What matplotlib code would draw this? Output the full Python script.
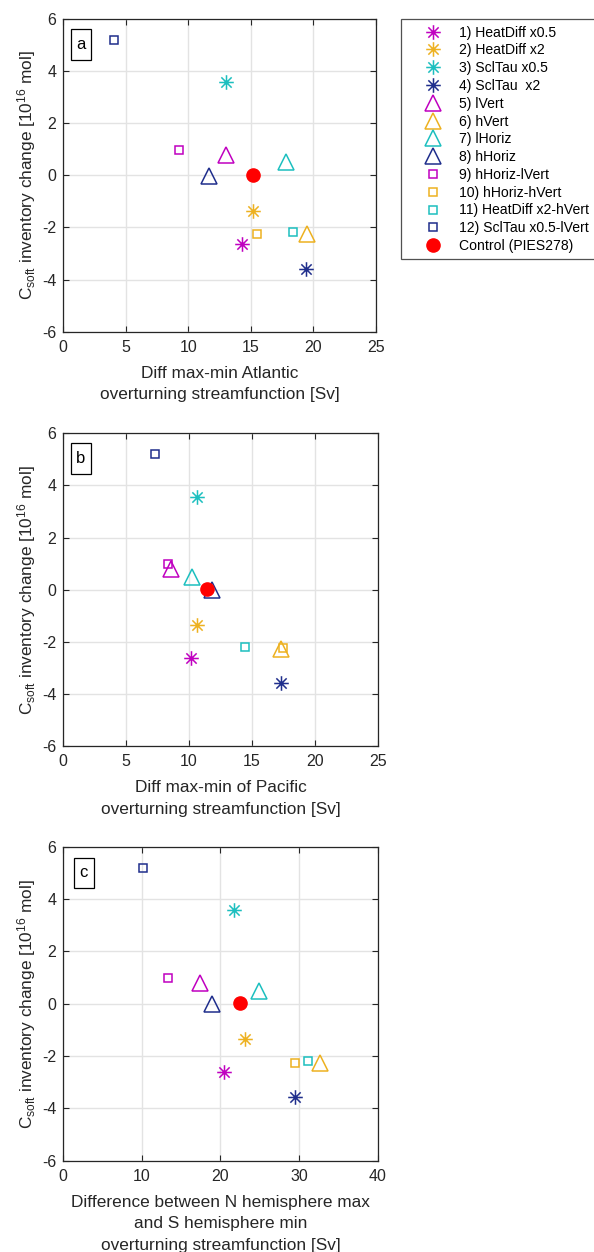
import matplotlib
matplotlib.use("Agg")
import matplotlib.pyplot as plt
from matplotlib.patches import Rectangle
from matplotlib.path import Path

plt.rcParams['font.family'] = ['Liberation Sans', 'DejaVu Sans']
plt.rcParams['mathtext.fontset'] = 'custom'
plt.rcParams['mathtext.rm'] = 'Liberation Sans'
plt.rcParams['mathtext.it'] = 'Liberation Sans:italic'
plt.rcParams['mathtext.bf'] = 'Liberation Sans:bold'
plt.rcParams['axes.unicode_minus'] = False

# ---- data -------------------------------------------------------------
run_labels = [
    "1) HeatDiff x0.5", "2) HeatDiff x2", "3) SclTau x0.5", "4) SclTau  x2",
    "5) lVert", "6) hVert", "7) lHoriz", "8) hHoriz",
    "9) hHoriz-lVert", "10) hHoriz-hVert", "11) HeatDiff x2-hVert",
    "12) SclTau x0.5-lVert",
]
control_label = "Control (PIES278)"

# Csoft inventory change [1e16 mol]
csoft_change = [-2.62, -1.36, 3.57, -3.58, 0.80, -2.26, 0.50, -0.03,
                0.98, -2.25, -2.19, 5.20]
control_csoft = 0.03

# overturning metrics [Sv]
atlantic_range = [14.26, 15.14, 13.0, 19.4, 13.0, 19.5, 17.8, 11.65,
                  9.25, 15.5, 18.4, 4.08]
pacific_range = [10.13, 10.6, 10.6, 17.31, 8.56, 17.31, 10.2, 11.85,
                 8.3, 17.5, 14.45, 7.32]
hemisphere_diff = [20.49, 23.08, 21.72, 29.44, 17.35, 32.7, 24.94, 18.88,
                   13.32, 29.48, 31.09, 10.1]
control_x = [15.14, 11.45, 22.48]

x_labels = [
    "Diff max-min Atlantic\noverturning streamfunction [Sv]",
    "Diff max-min of Pacific\noverturning streamfunction [Sv]",
    "Difference between N hemisphere max\nand S hemisphere min\noverturning streamfunction [Sv]",
]
panel_tags = ["a", "b", "c"]
x_limits = [(0, 25), (0, 25), (0, 40)]
x_ticks = [[0, 5, 10, 15, 20, 25], [0, 5, 10, 15, 20, 25], [0, 10, 20, 30, 40]]
y_ticks = [-6, -4, -2, 0, 2, 4, 6]

# ---- styles ----------------------------------------------------------
magenta = "#C000C0"
orange = "#EDB120"
cyan = "#1CBFBF"
navy = "#1F2E8C"
colors = [magenta, orange, cyan, navy] * 3

# eight-armed asterisk: a plus sign overlaid with a cross
d = 0.7071
asterisk = Path(
    [(0, -1), (0, 1), (-1, 0), (1, 0), (-d, -d), (d, d), (-d, d), (d, -d)],
    [Path.MOVETO, Path.LINETO] * 4,
)
markers = [asterisk] * 4 + ["^"] * 4 + ["s"] * 4
sizes = [10.5] * 4 + [11.5] * 4 + [6.2] * 4
text_col = "#262626"

fig = plt.figure(figsize=(5.94, 12.52), dpi=100)
W, H = 594, 1252
axes_px = [
    (63.3, 19.0, 376.0, 331.7),
    (63.3, 433.3, 377.7, 746.0),
    (63.3, 846.7, 377.7, 1160.7),
]
tag_boxes = [
    (0.0246, 0.869, 0.063, 0.099),
    (0.0246, 0.870, 0.063, 0.100),
    (0.034, 0.868, 0.063, 0.097),
]
xdata = [atlantic_range, pacific_range, hemisphere_diff]

handles = []
for i, (l, t, r, b) in enumerate(axes_px):
    ax = fig.add_axes([l / W, 1 - b / H, (r - l) / W, (b - t) / H])
    ax.set_axisbelow(True)
    ax.grid(True, color="#E3E3E3", linewidth=1.0)
    hs = []
    for x, y, c, m, s, lab in zip(xdata[i], csoft_change, colors, markers,
                                  sizes, run_labels):
        h, = ax.plot([x], [y], linestyle="none", marker=m, markersize=s,
                     markerfacecolor="none", markeredgecolor=c,
                     markeredgewidth=1.1, label=lab)
        hs.append(h)
    h, = ax.plot([control_x[i]], [control_csoft], linestyle="none", marker="o",
                 markersize=9.5, markerfacecolor="red", markeredgecolor="red",
                 label=control_label)
    hs.append(h)
    if i == 0:
        handles = hs
    ax.set_xlim(*x_limits[i])
    ax.set_ylim(-6, 6)
    ax.set_xticks(x_ticks[i])
    ax.set_yticks(y_ticks)
    ax.tick_params(direction="in", length=4, width=0.8, top=True, right=True,
                   labelsize=11.5, colors=text_col)
    ax.tick_params(axis="x", pad=6)
    ax.tick_params(axis="y", pad=5)
    for sp in ax.spines.values():
        sp.set_color(text_col)
        sp.set_linewidth(0.9)
    ax.set_xlabel(x_labels[i], fontsize=12.4, color=text_col, labelpad=8,
                  linespacing=1.52)
    ax.set_ylabel(r"C$_{\mathrm{soft}}$ inventory change [10$^{16}$ mol]",
                  fontsize=12.4, color=text_col, labelpad=3)
    bx, by, bw, bh = tag_boxes[i]
    ax.add_patch(Rectangle((bx, by), bw, bh, transform=ax.transAxes,
                           facecolor="white", edgecolor="black",
                           linewidth=0.9, zorder=5))
    ax.text(bx + bw / 2, by + bh / 2, panel_tags[i], transform=ax.transAxes,
            ha="center", va="center", fontsize=12, color="black", zorder=6)

leg = fig.legend(handles=handles, loc="upper left",
                 bbox_to_anchor=(401 / W, 1 - 19.3 / H), borderaxespad=0,
                 fontsize=10.1, frameon=True, fancybox=False,
                 edgecolor=text_col, borderpad=0.45, handlelength=3.6,
                 handletextpad=0.1, labelspacing=0.27, numpoints=1)
leg.get_frame().set_linewidth(0.9)
for t in leg.get_texts():
    t.set_color("black")

fig.savefig("out.png", dpi=100, facecolor="white")
